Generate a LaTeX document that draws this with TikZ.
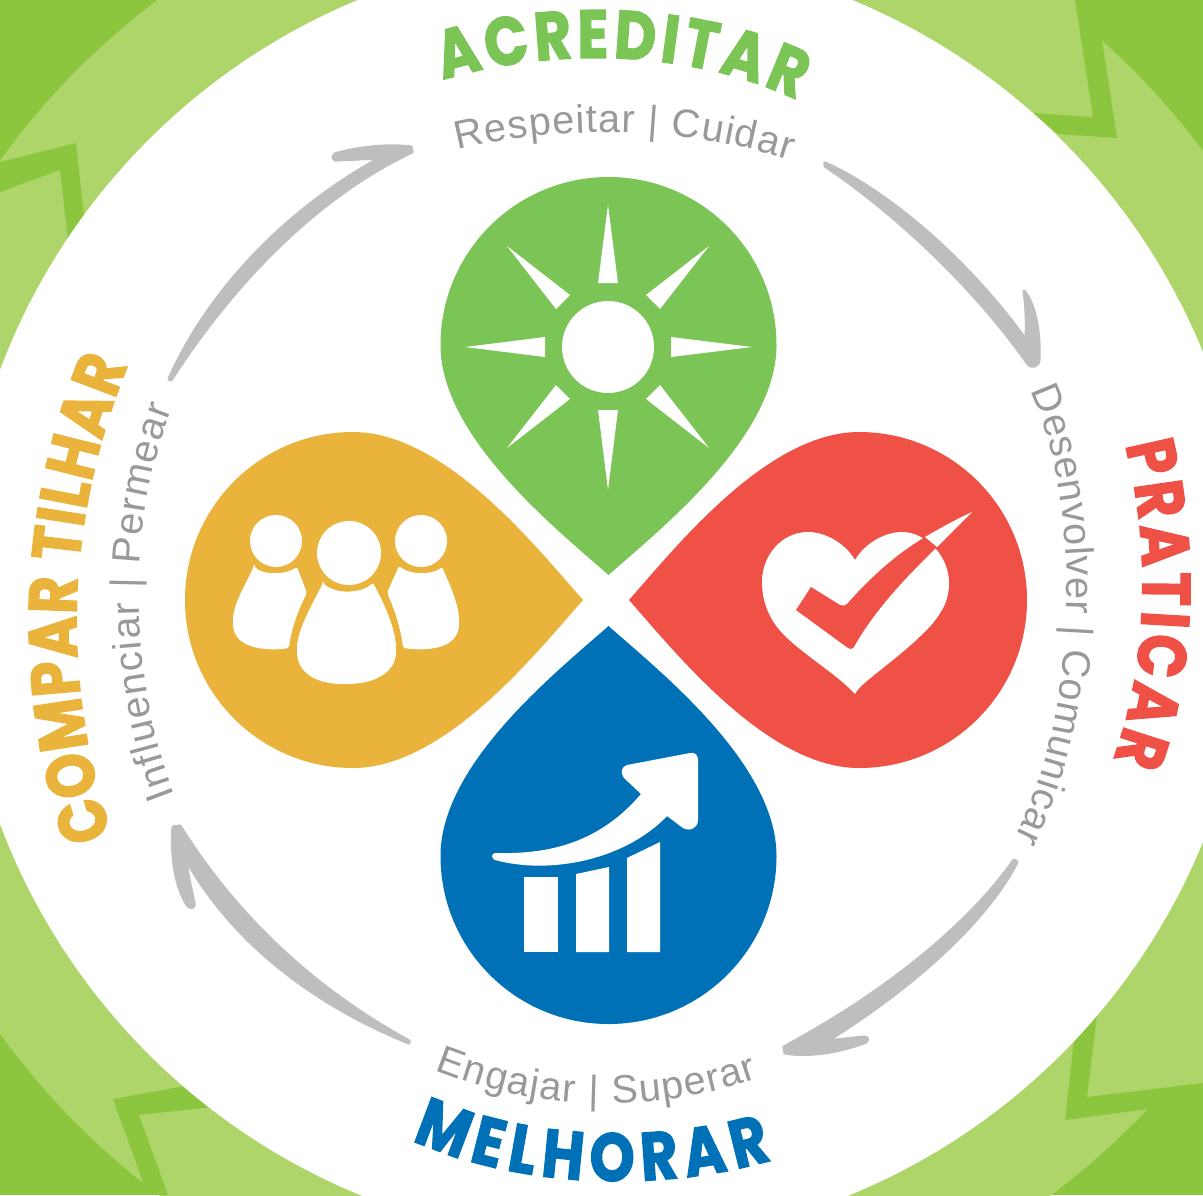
\documentclass[tikz,border=0pt]{standalone}
\usepackage{fontspec}
\usetikzlibrary{decorations.text}
\setmainfont{Liberation Sans}
\newfontfamily\handfont[BoldFeatures={FakeStretch=0.84,FakeBold=2}]{Poppins}
\definecolor{darkbg}{HTML}{8CC63F}
\definecolor{lightbg}{HTML}{AED56A}
\definecolor{dropgreen}{HTML}{7BC456}
\definecolor{dropyellow}{HTML}{EAB33B}
\definecolor{dropred}{HTML}{EF5147}
\definecolor{dropblue}{HTML}{0071B6}
\definecolor{arrowgray}{HTML}{BCBEC0}
\definecolor{textgray}{HTML}{98999C}
\newcommand{\droppath}{(0,230) .. controls (52,184) and (168,92) .. (168,0) .. controls (168,-92.8) and (92.8,-168) .. (0,-168) .. controls (-92.8,-168) and (-168,-92.8) .. (-168,0) .. controls (-168,92) and (-52,184) .. (0,230) -- cycle}
\newcommand{\graytext}[2]{\path[decorate,decoration={text along path,text format delimiters={[}{]},text align={fit to path},text={[\color{textgray}\fontsize{19.8}{21}\selectfont]#2}}] #1;}
\newcommand{\headtext}[3]{\path[line join=round,line cap=round,decorate,decoration={text along path,text format delimiters={[}{]},text align={fit to path},text={[\color{#2}\handfont\bfseries\fontsize{34}{36}\selectfont]#3}}] #1;}
\tikzset{
  arrowshape/.style={fill=arrowgray,draw=arrowgray,line width=1.6pt,line join=round},
  icon/.style={fill=white},
  ray/.style={fill=white},
}
\begin{document}
\begin{tikzpicture}[x=0.5pt,y=-0.5pt]
\useasboundingbox (0,0) rectangle (1203,1195);
\begin{scope}
\clip (0,0) rectangle (1203,1195);
% background
\fill[darkbg] (0,0) rectangle (1203,1195);
\fill[lightbg] (605,597) circle[radius=746];
\fill[lightbg] (1000,0) -- (1075,0) -- (1093,117) -- (1000,117) -- cycle;
\fill[lightbg] (1087,1097) -- (1203,1083) -- (1203,1000) -- (1087,1000) -- cycle;
\fill[darkbg] (0,162) -- (76,143) -- (85,225) -- (68,240) -- (60,170) -- (0,192) -- cycle;
\fill[darkbg] (1075,0) -- (1093,117) -- (1033,113) -- (1058,134) -- (1117,138) -- (1102,40) -- (1102,0) -- cycle;
\fill[darkbg] (190,1085) -- (113,1099) -- (144,1185) -- (155,1195) -- (168,1195) -- (139,1115) -- (212,1107) -- cycle;
\fill[darkbg] (1097,1015) -- (1087,1097) -- (1203,1083) -- (1203,1195) -- (1148,1109) -- (1065,1120) -- (1075,1030) -- cycle;
\fill[white] (605,597) circle[radius=646];
% drops
\begin{scope}[shift={(608.5,345)}] \fill[dropgreen] \droppath; \end{scope}
\begin{scope}[shift={(608.5,856)},rotate=180] \fill[dropblue] \droppath; \end{scope}
\begin{scope}[shift={(859,600)},rotate=-90] \fill[dropred] \droppath; \end{scope}
\begin{scope}[shift={(353,600)},rotate=90] \fill[dropyellow] \droppath; \end{scope}
% sun
\fill[icon] (608,347) circle[radius=46];
\fill[ray] (608,205) -- (618,283) -- (598,283) -- cycle;
\fill[ray] (608,490) -- (618,410) -- (598,410) -- cycle;
\fill[ray] (465,347) -- (545,337) -- (545,357) -- cycle;
\fill[ray] (752,347) -- (671,337) -- (671,357) -- cycle;
\fill[ray] (507,246) -- (570,295) -- (556,309) -- cycle;
\fill[ray] (709,246) -- (646,295) -- (660,309) -- cycle;
\fill[ray] (507,448) -- (570,399) -- (556,385) -- cycle;
\fill[ray] (709,448) -- (646,399) -- (660,385) -- cycle;
% heart
\fill[icon] (855,560) .. controls (845,543) and (825,532) .. (808,532)
  .. controls (782,532) and (762,555) .. (762,582)
  .. controls (762,600) and (768,615) .. (777,627)
  .. controls (795,650) and (835,672) .. (855,694)
  .. controls (860,682) and (905,655) .. (933,623)
  .. controls (943,610) and (949,600) .. (949,583)
  .. controls (949,555) and (925,532) .. (902,532)
  .. controls (885,532) and (865,543) .. (855,560) -- cycle;
\fill[dropred,line join=round] (811,587) -- (796,610) -- (848,648) .. controls (851,650) and (854,648) .. (855,645)
  .. controls (875,610) and (905,578) .. (937,547) -- (925,537)
  .. controls (895,555) and (870,578) .. (847,604) .. controls (845,606) and (843,606) .. (840,605) -- cycle;
\fill[icon] (925,537) .. controls (942,527) and (957,519) .. (972,512) .. controls (960,524) and (948,536) .. (937,547) -- cycle;
% people
\fill[icon] (276,541) circle[radius=26];
\fill[icon] (349,553) circle[radius=32];
\fill[icon] (421,541) circle[radius=26];
\fill[icon,rounded corners=1pt] (323,583) .. controls (335,594) and (360,594) .. (373,583)
  .. controls (385,605) and (396,630) .. (396,650) .. controls (396,672) and (375,684) .. (345,684)
  .. controls (315,684) and (297,672) .. (297,650) .. controls (297,630) and (312,605) .. (323,583) -- cycle;
\fill[icon,rounded corners=1pt] (254,566) .. controls (262,575) and (285,575) .. (297,567) -- (307,593)
  .. controls (298,610) and (291,630) .. (289,648) .. controls (270,651) and (233,650) .. (233,622)
  .. controls (233,605) and (245,585) .. (254,566) -- cycle;
\fill[icon,rounded corners=1pt] (399,566) .. controls (410,575) and (432,575) .. (442,567)
  .. controls (450,585) and (459,605) .. (459,622) .. controls (459,650) and (425,651) .. (403,648)
  .. controls (401,630) and (395,610) .. (387,593) -- cycle;
% chart
\fill[icon] (524,877) -- (558,877) -- (558,952) -- (524,952) -- cycle;
\fill[icon] (576,874) -- (609,867) -- (609,952) -- (576,952) -- cycle;
\fill[icon] (627,858) -- (660,842) -- (660,952) -- (627,952) -- cycle;
\fill[icon] (495,853) .. controls (540,854) and (595,848) .. (641,794)
  -- (624,778) .. controls (620,773) and (621,767) .. (627,765) -- (690,753)
  .. controls (695,752) and (698,755) .. (698,760) -- (698,820)
  .. controls (698,828) and (690,832) .. (683,828) -- (667,816)
  .. controls (625,860) and (550,875) .. (495,860) .. controls (491,858) and (491,854) .. (495,853) -- cycle;
% arrows
\fill[arrowshape] (825,163) .. controls (890,192) and (970,262) .. (1026,340)
  .. controls (1027,320) and (1026,305) .. (1024,291)
  .. controls (1035,305) and (1040,330) .. (1039,360)
  .. controls (1038,367) and (1031,368) .. (1028,364)
  .. controls (975,288) and (895,213) .. (825,166) -- cycle;
\fill[arrowshape] (1014,860) .. controls (972,920) and (895,985) .. (800,1038)
  -- (784,1047) -- (785,1053)  .. controls (810,1057) and (840,1052) .. (866,1042)
  .. controls (869,1039) and (867,1037) .. (864,1037) -- (827,1041)
  .. controls (905,993) and (985,925) .. (1017,862) -- cycle;
\fill[arrowshape] (409,1041) .. controls (320,992) and (240,922) .. (180,826)
  -- (173,827) .. controls (171,860) and (176,888) .. (188,906)
  .. controls (192,909) and (195,907) .. (194,903) .. controls (191,890) and (188,875) .. (185,858)
  .. controls (235,947) and (320,1007) .. (409,1043) -- cycle;
\fill[arrowshape] (169,379) .. controls (210,287) and (290,207) .. (380,158)
  -- (335,160) .. controls (332,158) and (333,155) .. (335,154)
  .. controls (355,148) and (385,144) .. (411,147) -- (412,152)
  .. controls (325,193) and (240,273) .. (171,380) -- cycle;
% labels
\graytext{(458,150) .. controls (560,125) and (680,125) .. (790,160)}{Respeitar | Cuidar}
\graytext{(1030,391) .. controls (1078,490) and (1085,700) .. (1015,838)}{Desenvolver | Comunicar}
\graytext{(435,1070) .. controls (540,1112) and (650,1115) .. (758,1078)}{Engajar | Superar}
\graytext{(175,795) .. controls (130,680) and (125,530) .. (172,408)}{Influenciar | Permear}
\headtext{(443,80) .. controls (540,50) and (680,45) .. (797,100)}{dropgreen}{ACREDITAR}
\headtext{(1125,445) .. controls (1150,540) and (1150,660) .. (1113,760)}{dropred}{PRATICAR}
\headtext{(412,1140) .. controls (510,1185) and (650,1195) .. (772,1160)}{dropblue}{MELHORAR}
\headtext{(112,835) .. controls (60,680) and (65,520) .. (128,365)}{dropyellow}{COMPAR TILHAR}
\end{scope}
\end{tikzpicture}
\end{document}
